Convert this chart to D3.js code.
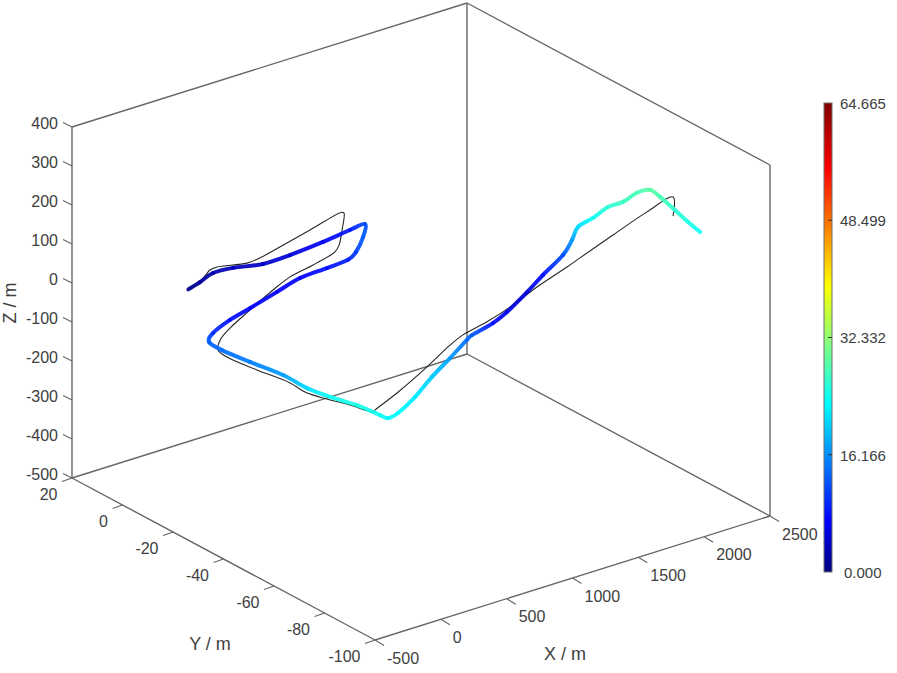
<!DOCTYPE html>
<html><head><meta charset="utf-8">
<script src="https://cdnjs.cloudflare.com/ajax/libs/d3/7.8.5/d3.min.js"></script>
<style>html,body{margin:0;padding:0;background:#fff}svg{display:block}text{font-family:"Liberation Sans",Arial,sans-serif;fill:#404040}</style>
</head><body><div id="chart"></div>
<script>
// Flight track, colour = speed
const trackX=[0,89,149,301,490,695,908,1074,1150,1135,1082,983,823,580,367,123,-67,-235,-303,-205,-30,182,326,501,667,842,864,940,1069,1160,1259,1349,1387,1508,1576,1690,1773,1848,1878,1886,1923,1960,1997,2027,2087,2125,2200,2261,2352];
const trackD=[20,20,22,22,24,24,26,28,30,30,30,32,32,34,36,38,40,42,44,44,46,48,50,50,52,52,54,54,54,56,58,60,60,62,64,66,68,72,74,76,80,84,88,92,94,96,98,100,100];
const trackY=trackD.map(d=>20-d);
const trackZ=[0,9,33,30,27,28,46,66,80,48,16,13,9,16,10,1,-2,-11,-20,-51,-93,-142,-184,-225,-257,-301,-304,-299,-272,-223,-178,-134,-126,-101,-73,-27,15,72,114,154,187,225,248,282,290,275,240,210,175];
const trackSpeed=[1,1.5,2.5,3.5,4,5,6.5,8.5,12,13,11,9,8,7,7,7,8,10,13,14,15,17,21,24,25,24,23,23,22,20,17,14,13,8,6,5,8,12,17,21,24,26,27,28,29,28,26,25,24];
// Reference line (black)
const refX=[0,89,126,179,407,468,642,809,1014,1029,1014,953,922,717,504,336,123,-67,-143,-197,-128,61,274,387,516,691,827,842,971,1161,1297,1357,1463,1561,1689,1802,1824,1921,2026,2147,2147];
const refY=[0,0,-2,-2,-2,-4,-4,-6,-8,-8,-8,-10,-10,-12,-14,-16,-18,-20,-20,-22,-22,-24,-26,-26,-28,-28,-30,-30,-32,-34,-36,-38,-42,-46,-50,-56,-60,-68,-76,-80,-80];
const refZ=[0,9,43,45,31,45,59,87,118,114,72,47,33,28,27,18,-4,-23,-46,-58,-84,-130,-179,-214,-239,-273,-298,-295,-258,-204,-156,-129,-93,-52,0,60,95,171,247,286,237];
const xTicks=[-500,0,500,1000,1500,2000,2500];
const yTicks=[20,0,-20,-40,-60,-80,-100];
const zTicks=[400,300,200,100,0,-100,-200,-300,-400,-500];
const cbarLabels=["0.000","16.166","32.332","48.499","64.665"];
const cbarValues=[0,16.166,32.332,48.499,64.665];
const speedMax=64.665;
const jetStops=[0,0.11,0.36,0.61,0.86,1];
const jetColors=["#00007f","#0000ff","#00ffff","#ffff00","#ff0000","#7f0000"];

const W=897,H=673;
const svg=d3.select("#chart").append("svg").attr("width",W).attr("height",H);
const defs=svg.append("defs");
const ux=d3.scaleLinear().domain([-500,2500]).range([0,1]);
const uy=d3.scaleLinear().domain([20,-100]).range([0,1]);
const uz=d3.scaleLinear().domain([-500,400]).range([0,1]);
const proj=(x,y,z)=>[72+395*ux(x)+303*uy(y),478-124*ux(x)+162*uy(y)-351*uz(z)];
const jet=d3.scaleLinear().domain(jetStops.map(s=>s*speedMax)).range(jetColors).clamp(true);

const axisColor="#666666";
const g=svg.append("g");
function seg(a,b,w,c){g.append("line").attr("x1",a[0]).attr("y1",a[1]).attr("x2",b[0]).attr("y2",b[1]).attr("stroke",c||axisColor).attr("stroke-width",w||1.4);}
const X0=-500,X1=2500,Y0=20,Y1=-100,Z0=-500,Z1=400;
[[[X0,Y0,Z0],[X1,Y0,Z0]],[[X1,Y0,Z0],[X1,Y1,Z0]],[[X0,Y0,Z0],[X0,Y1,Z0]],[[X0,Y1,Z0],[X1,Y1,Z0]],
 [[X0,Y0,Z0],[X0,Y0,Z1]],[[X1,Y0,Z0],[X1,Y0,Z1]],[[X1,Y1,Z0],[X1,Y1,Z1]],
 [[X0,Y0,Z1],[X1,Y0,Z1]],[[X1,Y0,Z1],[X1,Y1,Z1]]].forEach(([a,b])=>seg(proj(...a),proj(...b)));

xTicks.forEach(t=>{const p=proj(t,Y1,Z0);seg(p,[p[0]+9,p[1]+5.5],1.2);
 g.append("text").attr("x",p[0]+12).attr("y",p[1]+18).attr("dy","0.35em").attr("font-size",16).text(t);});
yTicks.forEach(t=>{const p=proj(X0,t,Z0);seg(p,[p[0]-10,p[1]+3.5],1.2);
 g.append("text").attr("x",p[0]-14.5).attr("y",p[1]+16).attr("dy","0.35em").attr("text-anchor","end").attr("font-size",16).text(t);});
zTicks.forEach(t=>{const p=proj(X0,Y0,t);seg(p,[p[0]-9,p[1]-4.5],1.2);
 g.append("text").attr("x",p[0]-14).attr("y",p[1]-3.5).attr("dy","0.35em").attr("text-anchor","end").attr("font-size",16).text(t);});

g.append("text").attr("x",565).attr("y",654).attr("dy","0.35em").attr("text-anchor","middle").attr("font-size",18).text("X / m");
g.append("text").attr("x",210).attr("y",644).attr("dy","0.35em").attr("text-anchor","middle").attr("font-size",18).text("Y / m");
g.append("text").attr("transform","translate(9.5,303) rotate(-90)").attr("dy","0.35em").attr("text-anchor","middle").attr("font-size",18).text("Z / m");

// reference line
const line=d3.line().curve(d3.curveCatmullRom.alpha(0.5));
g.append("path").attr("d",line(refX.map((x,i)=>proj(x,refY[i],refZ[i])))).attr("fill","none").attr("stroke","#262626").attr("stroke-width",1.1).attr("stroke-linejoin","round");

// coloured track: one smooth cubic per span, each with its own speed gradient
const pts=trackX.map((x,i)=>proj(x,trackY[i],trackZ[i]));
d3.range(pts.length-1).forEach(i=>{
 const a=pts[i],b=pts[i+1],p=pts[Math.max(i-1,0)],n=pts[Math.min(i+2,pts.length-1)],id="s"+i;
 const c1=[a[0]+(b[0]-p[0])/6,a[1]+(b[1]-p[1])/6],c2=[b[0]-(n[0]-a[0])/6,b[1]-(n[1]-a[1])/6];
 const gr=defs.append("linearGradient").attr("id",id).attr("gradientUnits","userSpaceOnUse")
  .attr("x1",a[0]).attr("y1",a[1]).attr("x2",b[0]).attr("y2",b[1]);
 gr.append("stop").attr("offset",0).attr("stop-color",jet(trackSpeed[i]));
 gr.append("stop").attr("offset",1).attr("stop-color",jet(trackSpeed[i+1]));
 g.append("path").attr("d",`M${a[0]},${a[1]}C${c1[0]},${c1[1]} ${c2[0]},${c2[1]} ${b[0]},${b[1]}`).attr("fill","none").attr("stroke",`url(#${id})`)
  .attr("stroke-width",4).attr("stroke-linecap","round").attr("opacity",0.92);
});

// colour bar
const cbar=d3.scaleLinear().domain([0,speedMax]).range([572,103]);
const cg=defs.append("linearGradient").attr("id","cb").attr("x1",0).attr("y1",1).attr("x2",0).attr("y2",0);
jetStops.forEach((s,i)=>cg.append("stop").attr("offset",s).attr("stop-color",jetColors[i]));
svg.append("rect").attr("x",824).attr("y",103).attr("width",8).attr("height",469).attr("fill","url(#cb)").attr("stroke","#6e6e6e").attr("stroke-width",1);
cbarValues.forEach((v,i)=>{
 const y=cbar(v);
 if(i>0&&i<4) svg.append("line").attr("x1",828).attr("x2",832).attr("y1",y).attr("y2",y).attr("stroke","#333").attr("stroke-width",1);
 svg.append("text").attr("x",i===0?844:840).attr("y",i===0?y+1:y+0.5).attr("dy","0.35em").attr("font-size",15).text(cbarLabels[i]);
});
</script></body></html>
